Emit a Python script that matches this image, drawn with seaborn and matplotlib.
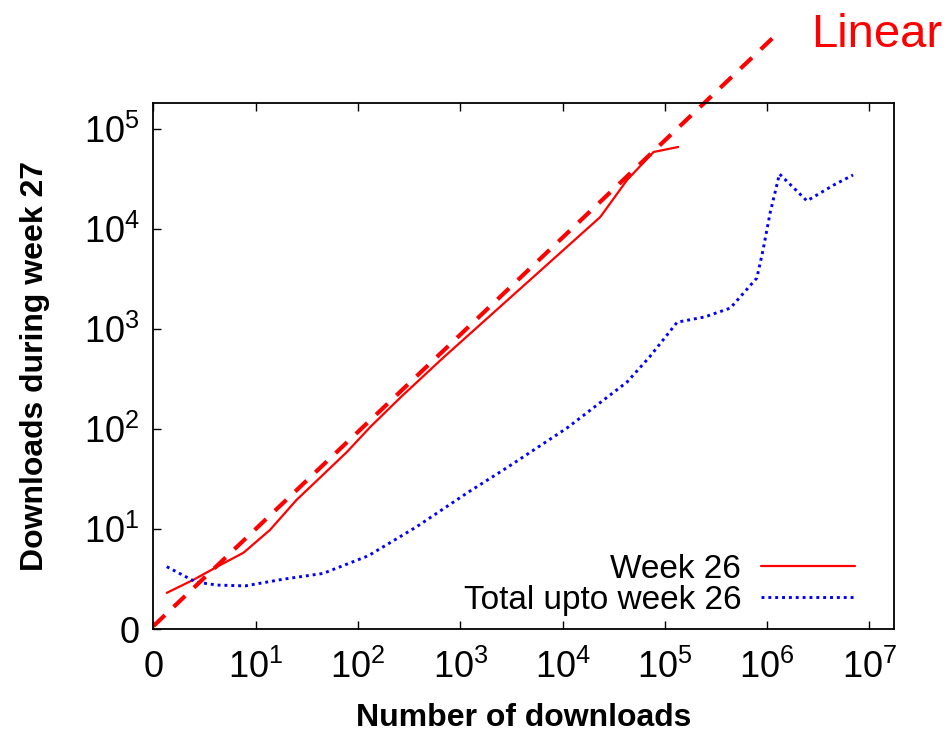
import numpy as np
import pandas as pd
import matplotlib
matplotlib.use("Agg")
import matplotlib.pyplot as plt
import seaborn as sns

# values (0 downloads is drawn at 1)
week26_x = [1.35, 2.45, 4.2, 7.6, 13.8, 25, 43, 78, 132, 263, 676, 4800, 23400, 42700, 77600, 135000]
week26_y = [2.3, 3.1, 4.2, 5.8, 9.8, 19.5, 33, 59, 105, 209, 513, 3090, 13200, 30900, 58900, 66100]

total_x = [1.35, 2.6, 4.2, 7.9, 18.6, 45.7, 126, 372, 1200, 2820, 11000, 42700, 70800,
           132000, 245000, 437000, 794000, 912000, 1070000, 1320000, 2450000, 4470000, 6920000]
total_y = [4.2, 2.95, 2.75, 2.7, 3.15, 3.6, 5.4, 10.5, 23.4, 40.7, 102, 295, 525,
           1170, 1320, 1620, 3240, 6170, 14500, 35500, 19100, 27500, 34700]

linear_x = [1, 1.36e6]
linear_y = [1.07, 9.7e5]

xticks = [1, 1e1, 1e2, 1e3, 1e4, 1e5, 1e6, 1e7]
xtick_labels = ["0"] + ["10$^{%d}$" % i for i in range(1, 8)]
yticks = [1, 1e1, 1e2, 1e3, 1e4, 1e5]
ytick_labels = ["0"] + ["10$^{%d}$" % i for i in range(1, 6)]

sns.set_style("ticks")
plt.rcParams["font.family"] = ["Liberation Sans", "DejaVu Sans"]
plt.rcParams["mathtext.fontset"] = "custom"
plt.rcParams["mathtext.rm"] = "Liberation Sans"
plt.rcParams["mathtext.default"] = "regular"
plt.rcParams["text.color"] = "black"
plt.rcParams["axes.labelcolor"] = "black"
plt.rcParams["xtick.color"] = "black"
plt.rcParams["ytick.color"] = "black"
plt.rcParams["axes.edgecolor"] = "black"

fig = plt.figure(figsize=(9.49, 7.31), dpi=100)
ax = fig.add_axes([0.1617, 0.1395, 0.7803, 0.7196])

sns.lineplot(x=week26_x, y=week26_y, ax=ax, color="#ff0000", lw=1.6,
             estimator=None, label="Week 26")
sns.lineplot(x=total_x, y=total_y, ax=ax, color="#0000ff", lw=2.1,
             linestyle=(0, (1, 1.35)), estimator=None, label="Total upto week 26")
sns.lineplot(x=linear_x, y=linear_y, ax=ax, color="#ff0000", lw=3.0,
             linestyle=(0, (3.8, 2.9)), estimator=None, clip_on=False, legend=False)

ax.set_xscale("log")
ax.set_yscale("log")
ax.set_xlim(1, 10 ** 7.24)
ax.set_ylim(1, 10 ** 5.26)
ax.set_xticks(xticks)
ax.set_xticklabels(xtick_labels)
ax.set_yticks(yticks)
ax.set_yticklabels(ytick_labels)
ax.minorticks_off()
ax.tick_params(axis="both", direction="in", length=6, width=1, labelsize=26, pad=10)
ax.tick_params(axis="x", top=True, pad=15)
for s in ax.spines.values():
    s.set_linewidth(1.3)
    s.set_visible(True)

ax.set_xlabel("Number of downloads", fontsize=23, fontweight="bold", labelpad=12)
ax.set_ylabel("Downloads during week 27", fontsize=23, fontweight="bold", labelpad=24)

ax.legend(loc="lower right", bbox_to_anchor=(0.965, 0.0), borderaxespad=0.0,
          frameon=False, markerfirst=False, fontsize=24,
          handlelength=2.8, labelspacing=0.0, handletextpad=0.6)

fig.text(0.855, 0.952, "Linear", color="#ff0000", fontsize=34, ha="left", va="center")

fig.savefig("out.png", dpi=100)
